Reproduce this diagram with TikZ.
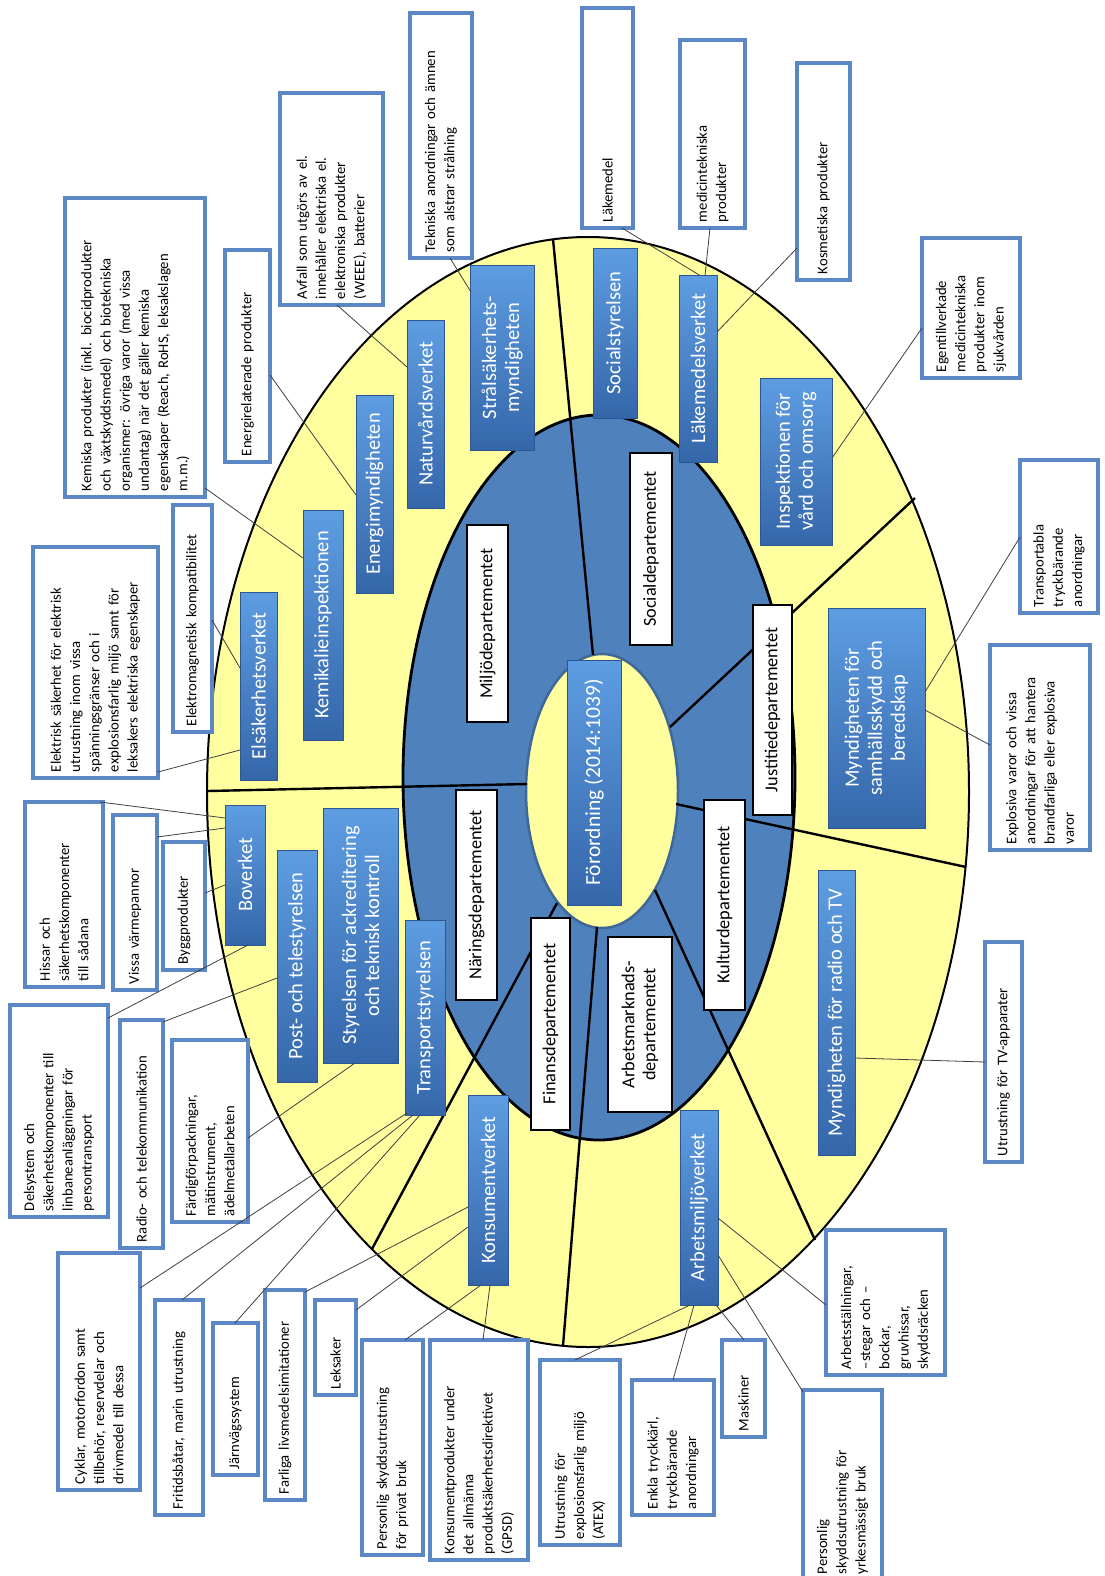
\documentclass[tikz,border=0pt]{standalone}
\usepackage{fontspec}
\setmainfont{Carlito}
\usetikzlibrary{shapes.geometric}
\definecolor{yel}{HTML}{FFFFA0}
\definecolor{ring}{HTML}{4F81BD}
\definecolor{pblue}{HTML}{5B87C7}
\definecolor{aglight}{HTML}{5E9DE2}
\definecolor{agdark}{HTML}{3566AA}
\begin{document}
\begin{tikzpicture}[x=1pt,y=-1pt,
  agency/.style={rotate=90, top color=aglight, bottom color=agdark, draw=agdark!85!black, line width=0.6pt, text=white, font=\fontsize{20.5}{23}\selectfont, align=center, inner sep=2pt},
  dept/.style={rotate=90, fill=white, draw=black, line width=1.2pt, font=\fontsize{18.3}{21}\selectfont, align=center, inner sep=2pt},
  prod/.style={rotate=90, fill=white, draw=pblue, line width=3.5pt, font=\fontsize{14.7}{19.2}\selectfont, align=left, inner ysep=3pt, inner xsep=6pt},
  conn/.style={draw=black!75, line width=0.8pt},
  radial/.style={draw=black, line width=2.4pt}]
\useasboundingbox (0,0) rectangle (1105,1576);
\fill[white] (0,0) rectangle (1105,1576);
% rings
\filldraw[fill=yel, draw=black, line width=2pt] (588,792) ellipse [x radius=381, y radius=555];
\filldraw[fill=ring, draw=black, line width=2.8pt] (599,777.5) ellipse [x radius=196, y radius=362.5];
\filldraw[fill=yel, draw=ring!80!black, line width=2.5pt] (602,791) ellipse [x radius=76, y radius=137];
% radial dividers
\draw[radial] (593,655) -- (553,239);
\draw[radial] (670,727) -- (915,498);
\draw[radial] (676,804) -- (966,867);
\draw[radial] (655,890) -- (815,1240);
\draw[radial] (597,927) -- (563,1346);
\draw[radial] (557,903) -- (372,1249);
\draw[radial] (527,784) -- (208,791);
% centre
\node[agency, font=\fontsize{21.5}{24}\selectfont, minimum width=245, minimum height=54] (forord) at (594,782.5) {Förordning (2014:1039)};
% departments
\node[dept, minimum width=197, minimum height=41] (miljo) at (487.5,623.5) {Miljödepartementet};
\node[dept, minimum width=192, minimum height=42] (socd) at (651,549) {Socialdepartementet};
\node[dept, minimum width=210, minimum height=39] (just) at (772.5,710) {Justitiedepartementet};
\node[dept, minimum width=210, minimum height=41] (kult) at (724.5,905) {Kulturdepartementet};
\node[dept, minimum width=175, minimum height=64] (arbd) at (640,1024.5) {Arbetsmarknads-\\departementet};
\node[dept, minimum width=212, minimum height=39] (fin) at (550.5,1024) {Finansdepartementet};
\node[dept, minimum width=210, minimum height=41] (nar) at (476.5,895) {Näringsdepartementet};
% agencies
\node[agency, minimum width=185, minimum height=64] (stral) at (502,357.5) {Strålsäkerhets-\\myndigheten};
\node[agency, minimum width=170, minimum height=44] (socs) at (615,333) {Socialstyrelsen};
\node[agency, minimum width=187, minimum height=38] (lakv) at (698,368.5) {Läkemedelsverket};
\node[agency, minimum width=188, minimum height=37] (nat) at (425.5,414) {Naturvårdsverket};
\node[agency, minimum width=198, minimum height=37] (ene) at (374.5,494) {Energimyndigheten};
\node[agency, minimum width=230, minimum height=40] (kemi) at (323,625) {Kemikalieinspektionen};
\node[agency, minimum width=188, minimum height=37] (elsv) at (258.5,686) {Elsäkerhetsverket};
\node[agency, minimum width=167, minimum height=72] (ivo) at (796,461.5) {Inspektionen för\\vård och omsorg};
\node[agency, minimum width=220, minimum height=97] (msb) at (876.5,718) {Myndigheten för\\samhällsskydd och\\beredskap};
\node[agency, minimum width=285, minimum height=37] (mrtv) at (836.5,1012.5) {Myndigheten för radio och TV};
\node[agency, minimum width=195, minimum height=38] (av) at (699,1207.5) {Arbetsmiljöverket};
\node[agency, minimum width=190, minimum height=40] (kv) at (488,1190) {Konsumentverket};
\node[agency, minimum width=195, minimum height=40] (ts) at (425,1017.5) {Transportstyrelsen};
\node[agency, minimum width=255, minimum height=75] (swedac) at (360.5,935.5) {Styrelsen för ackreditering\\och teknisk kontroll};
\node[agency, minimum width=232, minimum height=40] (pts) at (297,966) {Post- och telestyrelsen};
\node[agency, minimum width=140, minimum height=40] (bov) at (245,875) {Boverket};
% product boxes
\node[prod, minimum height=62, text width=233] (tek) at (441,135.5) {Tekniska anordningar och ämnen\\som alstrar strålning};
\node[prod, minimum height=51, text width=208] (lakm) at (607.5,118) {Läkemedel};
\node[prod, minimum height=65, text width=176] (med) at (712.5,134) {medicintekniska\\produkter};
\node[prod, minimum height=53, text width=205] (kosm) at (823.5,171.5) {Kosmetiska produkter};
\node[prod, minimum height=103, text width=200] (avf) at (331.5,199) {Avfall som utgörs av el.\\innehåller elektriska el.\\elektroniska produkter\\(WEEE), batterier};
\node[prod, minimum height=45, text width=200] (enr) at (247.5,356) {Energirelaterade produkter};
\node[prod, minimum height=140, text width=287] (kemp) at (135,347.5) {Kemiska produkter (inkl. biocidprodukter\\och växtskyddsmedel) och biotekniska\\organismer: övriga varor (med vissa\\undantag) när det gäller kemiska\\egenskaper (Reach, RoHS, leksakslagen\\m.m.)};
\node[prod, minimum height=39, text width=215] (emc) at (192.5,618.5) {Elektromagnetisk kompatibilitet};
\node[prod, minimum height=125, text width=219] (elsak) at (95.5,662.5) {Elektrisk säkerhet för elektrisk\\utrustning inom vissa\\spänningsgränser och i\\explosionsfarlig miljö samt för\\leksakers elektriska egenskaper};
\node[prod, minimum height=78, text width=173] (hiss) at (64,894.5) {Hissar och\\säkerhetskomponenter\\till sådana};
\node[prod, minimum height=44, text width=163] (varm) at (135,902.5) {Vissa värmepannor};
\node[prod, minimum height=42, text width=116] (bygg) at (184,906) {Byggprodukter};
\node[prod, minimum height=98, text width=200] (dels) at (59,1111) {Delsystem och\\säkerhetskomponenter till\\linbaneanläggningar för\\persontransport};
\node[prod, minimum height=43, text width=216] (radio) at (141.5,1134) {Radio- och telekommunikation};
\node[prod, minimum height=76, text width=170] (fard) at (210,1131) {Färdigförpackningar,\\mätinstrument,\\ädelmetallarbeten};
\node[prod, minimum height=82, text width=225] (cyk) at (99,1371.5) {Cyklar, motorfordon samt\\tillbehör, reservdelar och\\drivmedel till dessa};
\node[prod, minimum height=48, text width=203] (frit) at (179,1407.5) {Fritidsbåtar, marin utrustning};
\node[prod, minimum height=45, text width=140] (jarn) at (235.5,1399) {Järnvägssystem};
\node[prod, minimum height=40, text width=198] (farl) at (285,1395) {Farliga livsmedelsimitationer};
\node[prod, minimum height=41, text width=83] (leks) at (335.5,1347.5) {Leksaker};
\node[prod, minimum height=61, text width=203] (pspriv) at (392.5,1447.5) {Personlig skyddsutrustning\\för privat bruk};
\node[prod, minimum height=98, text width=208] (gpsd) at (479,1450) {Konsumentprodukter under\\det allmänna\\produktsäkerhetsdirektivet\\(GPSD)};
\node[prod, minimum height=80, text width=173] (atex) at (580,1452.5) {Utrustning för\\explosionsfarlig miljö\\(ATEX)};
\node[prod, minimum height=82, text width=123] (enkla) at (673,1447.5) {Enkla tryckkärl,\\tryckbärande\\anordningar};
\node[prod, minimum height=43, text width=85] (mask) at (743.5,1388.5) {Maskiner};
\node[prod, minimum height=79, text width=178] (psyrk) at (842.5,1485) {Personlig\\skyddsutrustning för\\yrkesmässigt bruk};
\node[prod, minimum height=119, text width=133] (arbst) at (885.5,1302.5) {Arbetsställningar,\\–stegar och –\\bockar,\\gruvhissar,\\skyddsräcken};
\node[prod, minimum height=37, text width=208] (tv) at (1003.5,1052) {Utrustning för TV-apparater};
\node[prod, minimum height=100, text width=193] (expl) at (1040,747.5) {Explosiva varor och vissa\\anordningar för att hantera\\brandfarliga eller explosiva\\varor};
\node[prod, minimum height=78, text width=141] (transp) at (1059,536.5) {Transportabla\\tryckbärande\\anordningar};
\node[prod, minimum height=98, text width=128] (egen) at (971,308) {Egentillverkade\\medicintekniska\\produkter inom\\sjukvården};
% connectors
\draw[conn] ([shift={(9,122.5)}]tek.center) -- ([shift={(-31,-65.5)}]stral.center);
\draw[conn] ([shift={(14.5,110)}]lakm.center) -- ([shift={(2,-93)}]lakv.center);
\draw[conn] ([shift={(-2.5,94)}]med.center) -- ([shift={(7,-93)}]lakv.center);
\draw[conn] ([shift={(-26.5,76.5)}]kosm.center) -- ([shift={(19,-36.5)}]lakv.center);
\draw[conn] ([shift={(5.5,106)}]avf.center) -- ([shift={(-18.5,-47)}]nat.center);
\draw[conn] ([shift={(22.5,19)}]enr.center) -- ([shift={(-18.5,1)}]ene.center);
\draw[conn] ([shift={(70,140.5)}]kemp.center) -- ([shift={(-20,-67)}]kemi.center);
\draw[conn] ([shift={(19.5,1.5)}]emc.center) -- ([shift={(-18.5,-18)}]elsv.center);
\draw[conn] ([shift={(62.5,109.5)}]elsak.center) -- ([shift={(-18.5,64)}]elsv.center);
\draw[conn] ([shift={(36,-92.5)}]hiss.center) -- ([shift={(-20,-57)}]bov.center);
\draw[conn] ([shift={(22,-65.5)}]varm.center) -- ([shift={(-20,-47)}]bov.center);
\draw[conn] ([shift={(21,-13)}]bygg.center) -- ([shift={(-20,10)}]bov.center);
\draw[conn] ([shift={(49,-93)}]dels.center) -- ([shift={(3,70)}]bov.center);
\draw[conn] ([shift={(21.5,-112)}]radio.center) -- ([shift={(-20,12)}]pts.center);
\draw[conn] ([shift={(38,7)}]fard.center) -- ([shift={(-5.5,127.5)}]swedac.center);
\draw[conn] ([shift={(41,-83.5)}]cyk.center) -- ([shift={(-18,95.5)}]ts.center);
\draw[conn] ([shift={(3,-107.5)}]frit.center) -- ([shift={(-12,97.5)}]ts.center);
\draw[conn] ([shift={(-0.5,-76)}]jarn.center) -- ([shift={(-5,97.5)}]ts.center);
\draw[conn] ([shift={(20,-103)}]farl.center) -- ([shift={(-20,17)}]kv.center);
\draw[conn] ([shift={(20.5,-37.5)}]leks.center) -- ([shift={(-20,37)}]kv.center);
\draw[conn] ([shift={(12.5,-107.5)}]pspriv.center) -- ([shift={(-7,95)}]kv.center);
\draw[conn] ([shift={(4,-110)}]gpsd.center) -- ([shift={(2,95)}]kv.center);
\draw[conn] ([shift={(-5,-92.5)}]atex.center) -- ([shift={(-9,97.5)}]av.center);
\draw[conn] ([shift={(0,-67.5)}]enkla.center) -- ([shift={(-5,97.5)}]av.center);
\draw[conn] ([shift={(0.5,-48.5)}]mask.center) -- ([shift={(17,97.5)}]av.center);
\draw[conn] ([shift={(-39.5,-93)}]psyrk.center) -- ([shift={(19,47.5)}]av.center);
\draw[conn] ([shift={(-59.5,2.5)}]arbst.center) -- ([shift={(19,10.5)}]av.center);
\draw[conn] ([shift={(18.5,45.5)}]mrtv.center) -- ([shift={(-18.5,10)}]tv.center);
\draw[conn] ([shift={(48.5,-26)}]msb.center) -- ([shift={(-39,0.5)}]transp.center);
\draw[conn] ([shift={(48.5,-8)}]msb.center) -- ([shift={(-50,-2.5)}]expl.center);
\draw[conn] ([shift={(36,-3.5)}]ivo.center) -- ([shift={(-49,20)}]egen.center);
\end{tikzpicture}
\end{document}
